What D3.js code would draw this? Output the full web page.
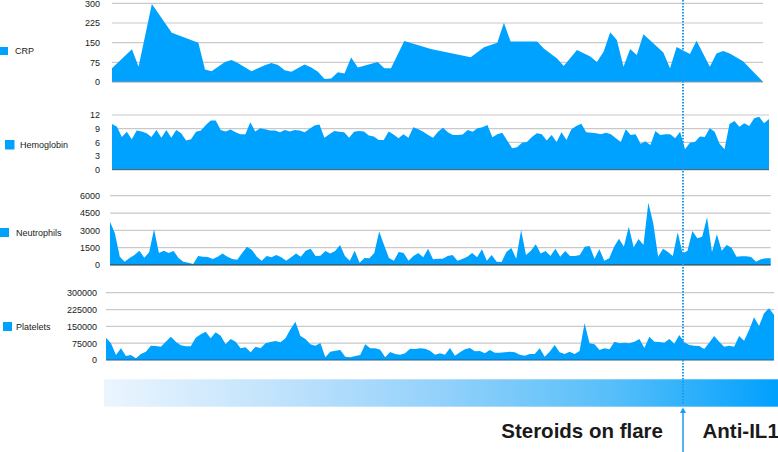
<!DOCTYPE html>
<html>
<head>
<meta charset="utf-8">
<script src="https://cdn.jsdelivr.net/npm/d3@7"></script>
<style>
  body { margin: 0; background: #fff; }
  text { font-family: "Liberation Sans", Arial, Helvetica, sans-serif; fill: #1a1a1a; }
</style>
</head>
<body>
<div id="chart"></div>
<script>
// ---------------- data ----------------
// CRP was sampled irregularly, so it keeps its own day index
var crpDay = [0,3,4,6,9,13,14,15,17,18,19,21,23,24,25,26,27,29,30,31,32,33,34,35,36,37,40,41,42,44,48,54,56,58,59,60,64,65,67,68,70,72,73,74,75,76,77,78,79,80,83,84,85,87,88,90,91,92,93,95,98];
var crpValues = [52,125,58,297,188,150,48,41,76,84,71,41,64,72,65,45,39,67,55,39,11,13,37,32,93,55,76,52,52,156,126,94,132,150,226,154,154,128,90,61,122,97,76,115,190,160,58,126,103,182,112,52,133,107,157,58,109,118,109,79,1];

var hemoglobinValues = [10.0,9.4,7.2,8.3,6.7,8.6,8.4,8.0,7.2,8.7,7.0,8.7,7.0,8.7,8.0,6.4,6.7,8.3,8.6,9.8,10.8,10.8,8.7,8.4,8.8,8.2,7.8,7.8,10.4,8.4,9.1,8.9,8.6,8.6,8.2,8.7,8.4,8.7,8.6,8.2,9.0,9.7,9.9,7.0,7.8,8.5,8.3,8.2,7.0,8.3,8.5,8.4,7.5,7.3,6.5,6.5,8.4,
  7.7,6.9,7.8,7.0,9.3,8.9,8.3,7.6,7.0,8.3,9.2,8.2,7.6,7.6,7.7,8.7,8.3,9.1,9.3,9.8,7.1,7.8,8.1,6.4,4.7,4.9,5.9,6.1,7.2,8.0,7.8,6.4,7.6,6.1,8.2,6.5,8.9,9.6,10.1,8.2,8.1,8.0,7.8,8.1,7.8,6.9,6.1,8.9,7.6,7.8,5.7,6.2,5.4,8.5,7.6,7.8,7.8,6.9,8.3,4.5,5.9,6.1,7.3,7.2,9.1,8.3,5.7,4.5,10.0,10.7,9.4,10.2,9.6,11.3,11.6,10.2,11.1];

var neutrophilValues = [3750,2745,720,290,610,870,1240,635,1100,3090,1040,1240,1040,1215,610,290,200,80,780,720,690,520,720,985,720,520,460,1040,1585,1300,720,375,780,665,865,665,375,665,985,720,1240,1415,780,810,1215,985,1215,1730,780,375,1240,200,610,580,1040,2890,1730,610,375,1130,
  1040,375,780,1040,665,1415,490,550,550,780,865,375,520,720,1040,665,1360,375,865,290,260,1130,1470,550,3030,865,1240,1790,985,1215,780,1415,720,1215,780,780,865,1585,1645,550,1360,375,580,1585,2280,1585,3320,1530,2250,1730,5400,3610,720,1415,1130,780,2830,985,1240,2945,2310,2455,4130,1130,2655,1240,1730,1500,720,750,750,690,290,490,580,580];

var plateletValues = [99400,74400,22300,52000,17800,22300,7400,26800,37100,63800,62400,59400,81700,104000,81700,65400,61000,61000,99400,114500,126300,96500,123300,108500,69900,93700,81700,52000,56400,34200,59400,52000,74400,80200,84600,78700,96500,136700,170900,107000,93700,69900,63800,75800,11900,37100,41600,44600,14900,11900,17800,22300,69900,52000,52000,46100,11900,35600,26800,23800,
  29700,50500,49000,52000,50500,41600,23800,29700,23800,53500,19300,34200,47500,53500,38600,40100,29700,44600,32700,32700,34200,37100,34200,23800,19300,26800,26800,52000,14900,37100,66900,34200,26800,37100,26800,40100,163400,74400,69900,44600,52000,47500,81700,74400,77200,74400,81700,93700,53500,104000,81700,80200,77200,93700,72900,111500,78700,66900,63800,62400,49000,77200,107000,81700,59400,63800,59400,107000,86100,133700,190200,151600,208000,230300,202000];

var seriesNames = ["CRP", "Hemoglobin", "Neutrophils", "Platelets"];
var crpTicks = [0, 75, 150, 225, 300];
var hemoglobinTicks = [0, 3, 6, 9, 12];
var neutrophilTicks = [0, 1500, 3000, 4500, 6000];
var plateletTicks = [0, 75000, 150000, 225000, 300000];
var phaseLabels = ["Steroids on flare", "Anti-IL1"];

// ---------------- layout ----------------
var svgWidth = 778;
var svgHeight = 452;
var fillColor = "#00a2ff";
var markerColor = "#1b9bf2";
var switchX = 683;

var indexOf = function(arr) { return arr.map(function(d, i) { return i; }); };

// every panel was pasted at a slightly different spot, so each gets its own box
var panels = [
  { name: seriesNames[0], x: crpDay, y: crpValues, ticks: crpTicks, max: 300,
    left: 112, right: 763, top: 3.3, bottom: 82, tickX: 100, base: "#9a9a9a",
    legend: { sx: 0, sy: 47, size: 8, tx: 15 } },
  { name: seriesNames[1], x: indexOf(hemoglobinValues), y: hemoglobinValues, ticks: hemoglobinTicks, max: 12,
    left: 112, right: 769, top: 115, bottom: 169.7, tickX: 100, base: "#555",
    legend: { sx: 5, sy: 140, size: 9.5, tx: 20 } },
  { name: seriesNames[2], x: indexOf(neutrophilValues), y: neutrophilValues, ticks: neutrophilTicks, max: 6000,
    left: 110, right: 770.7, top: 195.7, bottom: 265, tickX: 100, base: "#333",
    legend: { sx: 0, sy: 228, size: 9, tx: 16 } },
  { name: seriesNames[3], x: indexOf(plateletValues), y: plateletValues, ticks: plateletTicks, max: 300000,
    left: 106, right: 774, top: 292.7, bottom: 360, tickX: 97, base: "#2c5f86",
    legend: { sx: 3, sy: 322, size: 9, tx: 16 } }
];

var svg = d3.select("#chart")
  .append("svg")
  .attr("width", svgWidth)
  .attr("height", svgHeight);

svg.append("rect")
  .attr("width", svgWidth)
  .attr("height", svgHeight)
  .attr("fill", "#fff");

// ---------------- panels ----------------
panels.forEach(function(p) {
  var xScale = d3.scaleLinear()
    .domain([0, d3.max(p.x)])
    .range([p.left, p.right]);

  var yScale = d3.scaleLinear()
    .domain([0, p.max])
    .range([p.bottom, p.top]);

  var g = svg.append("g");

  // gridlines
  g.selectAll("line.grid")
    .data(p.ticks.filter(function(t) { return t > 0; }))
    .enter()
    .append("line")
    .attr("x1", p.left)
    .attr("x2", p.right)
    .attr("y1", function(d) { return yScale(d); })
    .attr("y2", function(d) { return yScale(d); })
    .attr("stroke", "#c9c9c9")
    .attr("stroke-width", 1.2);

  // tick labels
  var yAxis = d3.axisLeft(yScale)
    .tickValues(p.ticks)
    .tickSize(0)
    .tickPadding(0)
    .tickFormat(d3.format("d"));

  var axisG = g.append("g")
    .attr("transform", "translate(" + p.tickX + ",0)")
    .call(yAxis);
  axisG.select(".domain").remove();
  axisG.selectAll("text")
    .attr("font-size", 9)
    .attr("font-family", "Liberation Sans, Arial, sans-serif")
    .attr("fill", "#1a1a1a");

  // the filled area
  var area = d3.area()
    .x(function(d) { return xScale(d[0]); })
    .y0(p.bottom)
    .y1(function(d) { return yScale(d[1]); });

  g.append("path")
    .datum(d3.zip(p.x, p.y))
    .attr("d", area)
    .attr("fill", fillColor);

  g.append("line")
    .attr("x1", p.left)
    .attr("x2", p.right)
    .attr("y1", p.bottom)
    .attr("y2", p.bottom)
    .attr("stroke", p.base)
    .attr("stroke-width", 1);

  // legend
  g.append("rect")
    .attr("x", p.legend.sx)
    .attr("y", p.legend.sy)
    .attr("width", p.legend.size)
    .attr("height", p.legend.size)
    .attr("fill", fillColor);

  g.append("text")
    .attr("x", p.legend.tx)
    .attr("y", p.legend.sy + p.legend.size / 2)
    .attr("dy", "0.35em")
    .attr("font-size", 9)
    .text(p.name);
});

// ---------------- treatment bar ----------------
var defs = svg.append("defs");
var grad = defs.append("linearGradient")
  .attr("id", "phase")
  .attr("x1", "0%").attr("x2", "100%")
  .attr("y1", "0%").attr("y2", "0%");
grad.append("stop").attr("offset", "0%").attr("stop-color", "#ebf5fe");
grad.append("stop").attr("offset", "25%").attr("stop-color", "#c2e3fc");
grad.append("stop").attr("offset", "50%").attr("stop-color", "#93d1fb");
grad.append("stop").attr("offset", "75%").attr("stop-color", "#58bff9");
grad.append("stop").attr("offset", "100%").attr("stop-color", "#00a0fe");

svg.append("rect")
  .attr("x", 104)
  .attr("y", 379.3)
  .attr("width", svgWidth - 104)
  .attr("height", 27.4)
  .attr("fill", "url(#phase)");

// dotted marker through all panels
svg.append("line")
  .attr("x1", switchX).attr("x2", switchX)
  .attr("y1", 0).attr("y2", 405)
  .attr("stroke", markerColor)
  .attr("stroke-width", 2)
  .attr("stroke-dasharray", "1.5,1.5");

// arrow pointing up at the bar
svg.append("line")
  .attr("x1", switchX).attr("x2", switchX)
  .attr("y1", 412).attr("y2", svgHeight)
  .attr("stroke", markerColor)
  .attr("stroke-width", 1.5);

svg.append("path")
  .attr("d", d3.line()([[switchX - 3, 413], [switchX, 407.5], [switchX + 3, 413]]) + "Z")
  .attr("fill", markerColor);

svg.append("text")
  .attr("x", 663)
  .attr("y", 438)
  .attr("text-anchor", "end")
  .attr("font-size", 20.5)
  .attr("font-weight", "bold")
  .attr("fill", "#000")
  .text(phaseLabels[0]);

svg.append("text")
  .attr("x", 702.5)
  .attr("y", 438)
  .attr("font-size", 20.5)
  .attr("font-weight", "bold")
  .attr("fill", "#000")
  .text(phaseLabels[1]);
</script>
</body>
</html>
